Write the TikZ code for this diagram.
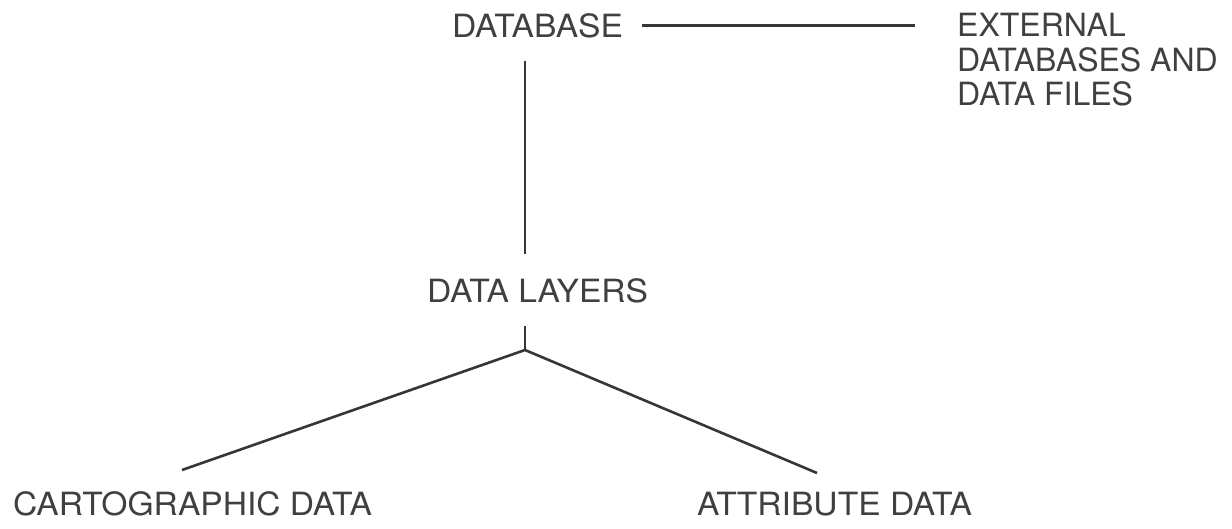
\documentclass[tikz,border=0pt]{standalone}
\usepackage{fontspec}
\setmainfont{TeX Gyre Heros}
\newfontfamily\widefont[FakeStretch=1.05]{TeX Gyre Heros}
\definecolor{ink}{HTML}{404040}
\definecolor{wire}{HTML}{363636}
\begin{document}
\begin{tikzpicture}[x=1pt,y=-1pt,
  lbl/.style={inner sep=0pt, text=ink, font=\widefont\fontsize{32}{34.5}\selectfont},
  extlbl/.style={inner sep=0pt, text=ink, font=\fontsize{32}{34.5}\selectfont},
  wirestyle/.style={draw=wire, line width=2.6pt}]
\useasboundingbox[fill=white] (0,0) rectangle (1232,528);
\node[lbl, anchor=base west] (db) at (452,37) {DATABASE};
\node[extlbl, anchor=north west, align=left] (ext) at (957,13) {EXTERNAL\\DATABASES AND\\DATA FILES};
\node[lbl, anchor=base west] (dl) at (427,302) {DATA LAYERS};
\node[lbl, anchor=base west] (carto) at (13,515) {CARTOGRAPHIC DATA};
\node[lbl, anchor=base west] (attr) at (697,515) {ATTRIBUTE DATA};
\coordinate (j) at (525,350);
\coordinate (cl) at (182,470);
\coordinate (cr) at (817,473);
\draw[wirestyle, shorten <=19pt, shorten >=42pt] (db.east) -- (db.east -| ext.west);
\draw[wirestyle, shorten <=23pt, shorten >=24pt] (db.south -| j) -- (dl.north -| j);
\draw[wirestyle, shorten <=23pt] (dl.south -| j) -- (j);
\draw[wirestyle] (cl) -- (j) -- (cr);
\end{tikzpicture}
\end{document}
